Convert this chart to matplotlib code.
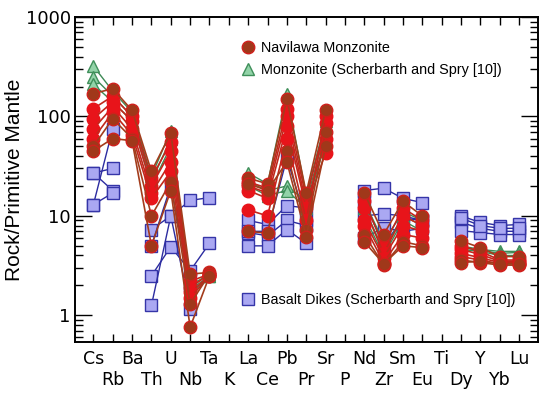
import numpy as np
import matplotlib.pyplot as plt
from matplotlib.lines import Line2D

nan = np.nan

# element order of the spider diagram
elements = ['Cs', 'Rb', 'Ba', 'Th', 'U', 'Nb', 'Ta', 'K', 'La', 'Ce', 'Pb', 'Pr',
            'Sr', 'P', 'Nd', 'Zr', 'Sm', 'Eu', 'Ti', 'Dy', 'Y', 'Yb', 'Lu']

# Navilawa Monzonite samples (rock / primitive mantle)
navilawa = [
    [170, 190, 115, 28, 68, 2.6, 2.7, nan, 24, 21, 150, 17, 115, nan, 17, 6.5, 14, 10, nan, 5.6, 4.8, 3.9, 3.9],
    [120, 160, 100, 24, 55, 2.2, 2.6, nan, 22, 19, 120, 15, 85, nan, 14, 5.0, 12, 9, nan, 5.0, 4.4, 3.6, 3.6],
    [95, 140, 90, 20, 45, 1.9, 2.6, nan, 20, 17, 100, 13, 60, nan, 12, 4.2, 10, 8, nan, 4.6, 4.1, 3.5, 3.5],
    [75, 125, 75, 17, 35, 1.7, 2.5, nan, 18, 15, 80, 12, 43, nan, 9, 3.8, 8, 7, nan, 4.2, 3.8, 3.4, 3.4],
    [60, 110, 65, 15, 28, 1.5, 2.5, nan, 11.5, 10, 60, 9, 100, nan, 8, 3.4, 6.5, 6, nan, 3.9, 3.6, 3.3, 3.3],
    [50, 95, 60, 10, 22, 1.3, 2.6, nan, 7, 6.7, 45, 7.2, 70, nan, 6.5, 3.2, 5.5, 5, nan, 3.6, 3.4, 3.2, 3.2],
    [45, 60, 57, 5, 18, 0.76, 2.5, nan, 21, 18, 35, 6.2, 50, nan, 5.5, 3.3, 5, 4.8, nan, 3.4, 3.5, 3.3, 3.3],
]
# which Navilawa samples are drawn with red instead of brown fill
navilawa_red = [False, True, True, True, True, False, False]

# Monzonite (Scherbarth and Spry [10])
monzonite = [
    [320, 180, 110, 25, 72, 2.0, 2.6, nan, 27, 21, 170, 16, 90, nan, 14, 5.5, 11, 9, nan, 5.0, 4.6, 4.4, 4.4],
    [250, 160, 100, 22, 60, 1.8, 2.5, nan, 22, 18, 20, 14, 70, nan, 12, 4.5, 10, 8, nan, 4.8, 4.5, 4.2, 4.3],
    [210, 140, 90, 20, 50, 1.6, 2.5, nan, 20, 16, 18, 12, 55, nan, 10, 4.0, 9, 7, nan, 4.6, 4.4, 4.0, 4.0],
]

# Basalt Dikes (Scherbarth and Spry [10])
basalt = [
    [13, 75, nan, 7.3, 10, 14.3, 15.3, nan, 9, 8.2, 12.7, 12, nan, nan, 18, 19, 15, 13.6, nan, 10, 8.6, 8, 8.2],
    [27, 18, nan, 2.5, 4.9, 2.8, 5.3, nan, 6.8, 6.3, 9, 8, nan, nan, 10, 10.5, 10, 9, nan, 8.6, 7.5, 7, 7],
    [27, 30, nan, 1.26, 10, 1.17, nan, nan, 5, 5, 7.3, 5.3, nan, nan, 6, 7.6, 7, 7.5, nan, 7.1, 6.8, 6.5, 6.5],
    [13, 17, nan, 5, 20, 2.0, nan, nan, 7, 7, 38, 9, nan, nan, 14, 5, 9.5, 9, nan, 9.5, 8, 7.5, 7.5],
]

x = np.arange(len(elements))

fig = plt.figure(figsize=(5.5, 3.93), dpi=100)
ax = fig.add_axes([0.1364, 0.1298, 0.8418, 0.827])

for s in basalt:
    ax.plot(x, s, '-s', color='#2c2ca0', lw=1, ms=8, mfc='#aaa8f2', mec='#3535a8', mew=1)
for s in monzonite:
    ax.plot(x, s, '-^', color='#3d8a55', lw=1, ms=9, mfc='#92d3a8', mec='#3f8f5a', mew=1)
# red ones first, brown ones on top
for s, red in zip(navilawa, navilawa_red):
    if red:
        ax.plot(x, s, '-o', color='#c0281c', lw=1.2, ms=9, mfc='#e8141a', mec='#e8141a', mew=1)
for s, red in zip(navilawa, navilawa_red):
    if not red:
        ax.plot(x, s, '-o', color='#a33c1c', lw=1.2, ms=9, mfc='#a0381a', mec='#d0201c', mew=1)

ax.set_yscale('log')
ax.set_ylim(0.54, 1000)
ax.set_xlim(-0.95, 22.98)

# element labels in two staggered rows
ax.set_xticks(x)
ax.set_xticklabels([])
for i, e in enumerate(elements):
    yy = -0.025 if i % 2 == 0 else -0.09
    ax.text(i, yy, e, transform=ax.get_xaxis_transform(), ha='center', va='top',
            fontsize=12.5, family='DejaVu Sans')

ax.set_yticks([1, 10, 100, 1000])
ax.set_yticklabels(['1', '10', '100', '1000'], fontsize=13)
ax.tick_params(axis='x', which='both', direction='in', top=True, length=6, width=1)
ax.tick_params(axis='y', which='major', direction='in', right=True, length=12, width=1, pad=3)
ax.tick_params(axis='y', which='minor', direction='in', right=True, length=6, width=1)
for sp in ax.spines.values():
    sp.set_linewidth(1.4)

ax.set_ylabel('Rock/Primitive Mantle', fontsize=15, family='Liberation Sans', labelpad=1)

h1 = Line2D([], [], ls='none', marker='o', ms=9, mfc='#a0381a', mec='#d0201c', mew=1)
h2 = Line2D([], [], ls='none', marker='^', ms=9, mfc='#92d3a8', mec='#3f8f5a', mew=1)
h3 = Line2D([], [], ls='none', marker='s', ms=8, mfc='#aaa8f2', mec='#3535a8', mew=1)

leg1 = ax.legend([h1, h2], ['Navilawa Monzonite', 'Monzonite (Scherbarth and Spry [10])'],
                 loc='upper left', bbox_to_anchor=(0.345, 0.945), frameon=False,
                 prop={'family': 'Liberation Sans', 'size': 10.4}, handlelength=1.0,
                 handletextpad=0.45, labelspacing=0.55, borderaxespad=0)
ax.add_artist(leg1)
ax.legend([h3], ['Basalt Dikes (Scherbarth and Spry [10])'],
          loc='upper left', bbox_to_anchor=(0.345, 0.167), frameon=False,
          prop={'family': 'Liberation Sans', 'size': 10.4}, handlelength=1.0,
          handletextpad=0.45, borderaxespad=0)

plt.savefig('out.png', dpi=100)
